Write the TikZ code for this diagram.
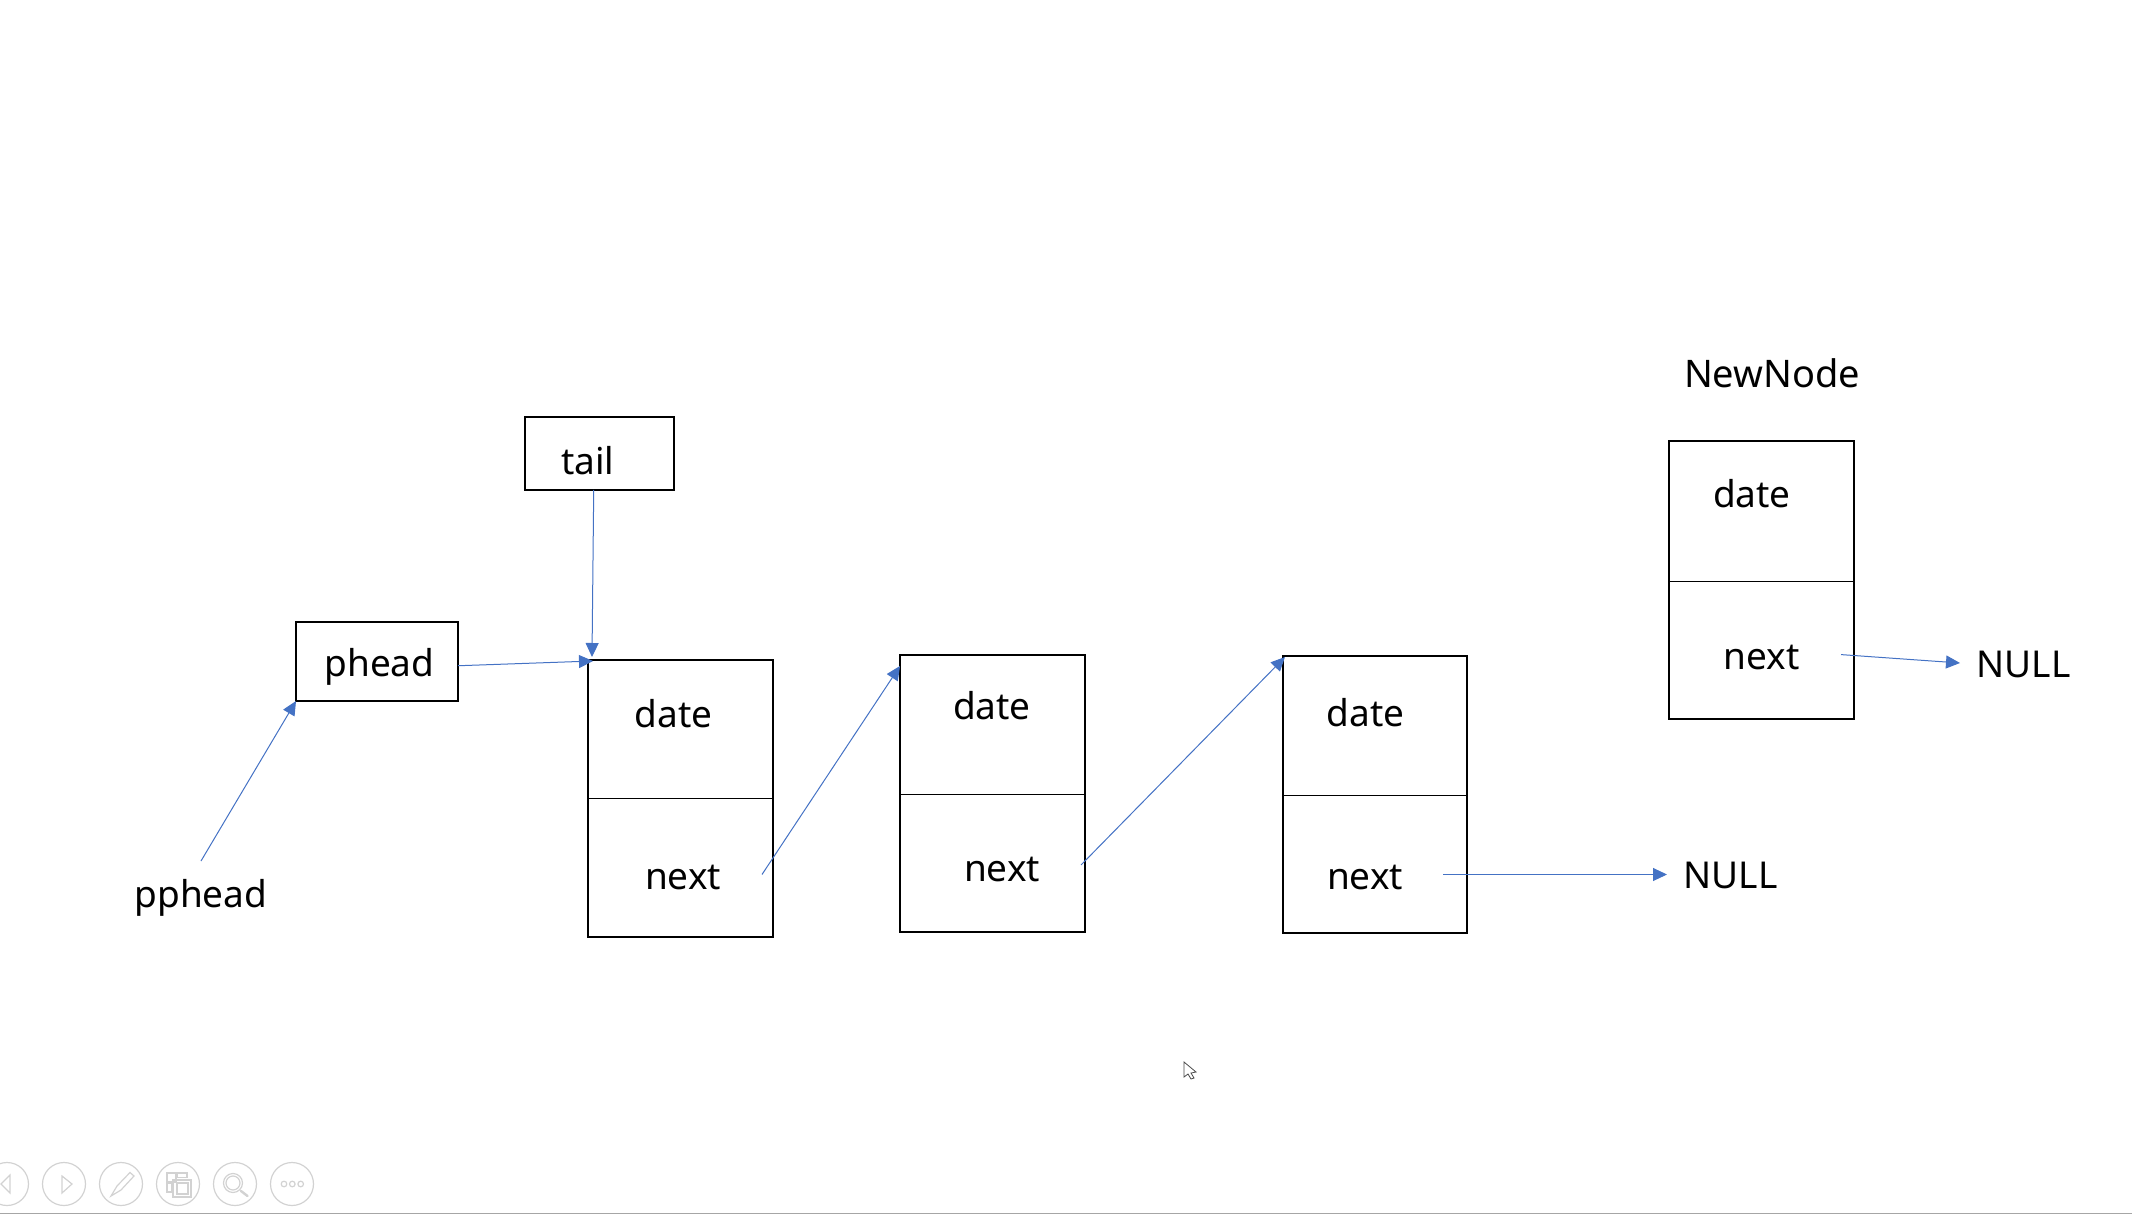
\documentclass[tikz,border=0pt]{standalone}
\usepackage{fontspec}
\setmainfont{Noto Sans}
\usepackage{xcolor}
\usepackage{tikz}
\usetikzlibrary{arrows.meta}
\definecolor{linkblue}{HTML}{4472C4}
\definecolor{toolgray}{HTML}{D2D2D2}
\tikzset{
	listbox/.style={draw, line width=1pt, inner sep=0pt, outer sep=0pt},
	cellbox/.style={listbox, minimum width=92.25pt, minimum height=138.5pt},
	listtext/.style={anchor=base west, inner sep=0pt, outer sep=0pt, font=\fontsize{18.5}{22}\selectfont},
	divider/.style={line width=0.5pt},
	link/.style={draw=linkblue, line width=0.5pt, -{Triangle[length=7pt,width=6.5pt,fill=linkblue]}},
	toolicon/.style={draw=toolgray, line width=0.6pt}
}

\begin{document}
\begin{tikzpicture}[x=0.5pt,y=-0.5pt]
	\useasboundingbox (0,0) rectangle (2132,1214);

	%% small boxes
	\node[listbox, minimum width=74.75pt, minimum height=36.5pt] (tailbox) at (599.5,453.5) {};
	\node[listbox, minimum width=81pt, minimum height=39.5pt] (pheadbox) at (377,661.5) {};

	%% list cells
	\node[cellbox] (boxA) at (680.5,798) {};
	\node[cellbox] (boxB) at (992.5,793) {};
	\node[cellbox] (boxC) at (1375,794.5) {};
	\node[cellbox, minimum width=92.75pt, minimum height=139.25pt] (boxNew) at (1761.5,580) {};
	\draw[divider] (boxA.west |- 0,798) -- (boxA.east |- 0,798);
	\draw[divider] (boxB.west |- 0,794) -- (boxB.east |- 0,794);
	\draw[divider] (boxC.west |- 0,795.5) -- (boxC.east |- 0,795.5);
	\draw[divider] (boxNew.west |- 0,581) -- (boxNew.east |- 0,581);

	%% texts
	\node[listtext] (tailtext) at (561,474) {tail};
	\node[listtext] (pheadtext) at (324.5,676) {phead};
	\node[listtext] (ppheadtext) at (134.5,907) {pphead};
	\node[listtext] (dateA) at (634.5,727) {date};
	\node[listtext] (nextA) at (645,889) {next};
	\node[listtext] (dateB) at (953,719) {date};
	\node[listtext] (nextB) at (964,881) {next};
	\node[listtext] (dateC) at (1326.5,726) {date};
	\node[listtext] (nextC) at (1327,889) {next};
	\node[listtext] (nullC) at (1683.5,888.5) {NULL};
	\node[listtext, font=\fontsize{19}{22}\selectfont] (newtext) at (1684,387) {NewNode};
	\node[listtext] (dateNew) at (1713,507) {date};
	\node[listtext] (nextNew) at (1723.5,669) {next};
	\node[listtext] (nullNew) at (1976.5,677) {NULL};

	%% free ends of the links
	\coordinate (ppheadout) at (201,861);
	\coordinate (pheadtip) at (593,661);
	\coordinate (tailtip) at (592,657);
	\coordinate (nextAout) at (762,874.5);
	\coordinate (boxBin) at (900,666);
	\coordinate (nextBout) at (1081,865);
	\coordinate (boxCin) at (1285,657);
	\coordinate (nextCout) at (1443,874.5);
	\coordinate (nullCin) at (1667,874.5);
	\coordinate (nextNewout) at (1841,654.6);
	\coordinate (nullNewin) at (1960,663);

	\draw[link] (ppheadout) -- (pheadbox.south west);
	\draw[link] (pheadbox.-3.5) -- (pheadtip);
	\draw[link] (tailbox.-99) -- (tailtip);
	\draw[link] (nextAout) -- (boxBin);
	\draw[link] (nextBout) -- (boxCin);
	\draw[link] (nextCout) -- (nullCin);
	\draw[link] (nextNewout) -- (nullNewin);

	%% slide show toolbar
	\foreach \cx in {7,64,121,178,235,292}
		\draw[toolicon] (\cx,1184) circle (21.5);
	\draw[toolicon] (10,1175) -- (10,1193) -- (1,1184) -- cycle;
	\draw[toolicon] (62,1176) -- (62,1193) -- (72,1184) -- cycle;
	\draw[toolicon] (111,1196) -- (117,1186) -- (130,1172.5) -- (134,1176) -- (121,1190) -- cycle;
	\draw[toolicon] (167,1173) rectangle (176,1182);
	\draw[toolicon] (177,1173) rectangle (187,1177.5);
	\draw[toolicon] (167,1183) rectangle (172,1192);
	\draw[toolicon] (173,1180) rectangle (191,1197);
	\draw[toolicon] (177,1183) rectangle (188,1194);
	\draw[toolicon] (233,1183) circle (9.5);
	\draw[toolicon] (233,1183) circle (7);
	\draw[toolicon, line width=1.2pt, line cap=round] (241,1191) -- (247.5,1196);
	\foreach \cx in {284,292.3,300.7}
		\draw[toolicon] (\cx,1184) circle (2.8);
	\draw[line width=1pt, draw=black!35] (0,1213.5) -- (2132,1213.5);

	%% mouse pointer
	\draw[line width=0.4pt, draw=black!70, fill=white] (1184,1062) -- (1184,1077) -- (1188,1074) -- (1191,1079) -- (1194,1078) -- (1191,1073) -- (1196,1072) -- cycle;
\end{tikzpicture}
\end{document}
